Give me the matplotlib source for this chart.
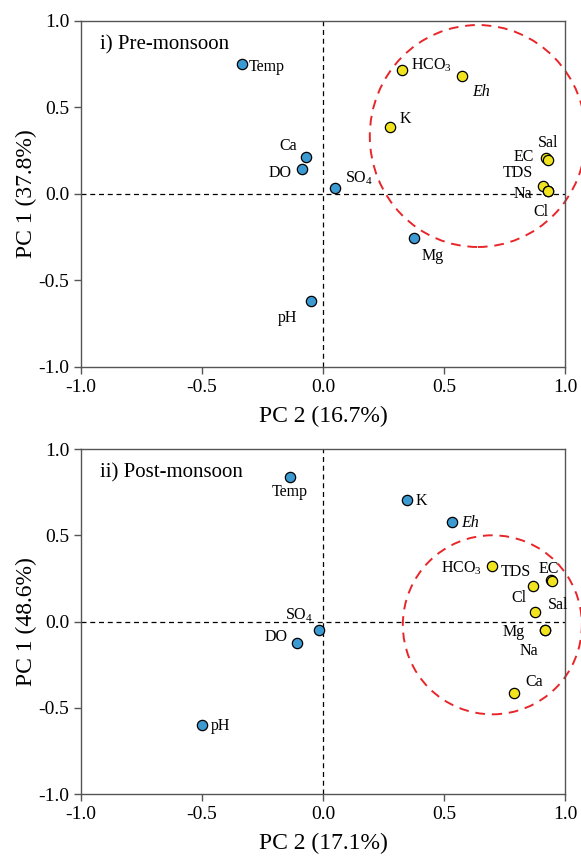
import matplotlib
matplotlib.use("Agg")
import matplotlib.pyplot as plt
from matplotlib.patches import Ellipse

plt.rcParams["font.family"] = ["Liberation Serif", "DejaVu Serif"]
plt.rcParams["mathtext.fontset"] = "custom"
plt.rcParams["mathtext.rm"] = "Liberation Serif"
plt.rcParams["mathtext.it"] = "Liberation Serif:italic"
plt.rcParams["axes.unicode_minus"] = False

BLUE = "#3b9ad2"
YELLOW = "#f1e41f"

# loadings (x = PC 2, y = PC 1)
pre_names = ["Temp", "Ca", "DO", "SO4", "pH", "Mg",
             "HCO3", "Eh", "K", "EC", "Sal", "TDS", "Na", "Cl"]
pre_pc2 = [-0.335, -0.070, -0.087, 0.050, -0.050, 0.376,
           0.326, 0.574, 0.277, 0.920, 0.928, 0.909, 0.930, 0.930]
pre_pc1 = [0.751, 0.215, 0.145, 0.035, -0.620, -0.255,
           0.715, 0.680, 0.390, 0.210, 0.198, 0.045, 0.020, 0.020]
pre_group = ["b", "b", "b", "b", "b", "b",
             "y", "y", "y", "y", "y", "y", "y", "y"]

post_names = ["Temp", "K", "Eh", "SO4", "DO", "pH",
              "HCO3", "TDS", "EC", "Sal", "Cl", "Mg", "Na", "Ca"]
post_pc2 = [-0.136, 0.346, 0.534, -0.015, -0.106, -0.501,
            0.700, 0.869, 0.942, 0.945, 0.876, 0.917, 0.917, 0.789]
post_pc1 = [0.838, 0.704, 0.575, -0.049, -0.123, -0.598,
            0.323, 0.206, 0.239, 0.235, 0.055, -0.049, -0.049, -0.413]
post_group = ["b", "b", "b", "b", "b", "b",
              "y", "y", "y", "y", "y", "y", "y", "y"]

pre_var = (16.7, 37.8)
post_var = (17.1, 48.6)

# label placement: offset in pixels and horizontal alignment
pre_offsets = {
    "Temp": (7, -3, "left"), "Ca": (-9, 11, "right"), "DO": (-10, -4, "right"),
    "SO4": (10, 10, "left"), "pH": (-14, -17, "right"), "Mg": (8, -18, "left"),
    "HCO3": (9, 5, "left"), "Eh": (10, -16, "left"), "K": (10, 8, "left"),
    "EC": (-12, 1, "right"), "Sal": (-10, 17, "left"), "TDS": (-10, 13, "right"),
    "Na": (-16, -3, "right"), "Cl": (-15, -21, "left"),
}
post_offsets = {
    "Temp": (0, -15, "center"), "K": (9, -1, "left"), "Eh": (9, -1, "left"),
    "SO4": (-6, 15, "right"), "DO": (-10, 6, "right"), "pH": (9, -1, "left"),
    "HCO3": (-10, -2, "right"), "TDS": (-2, 14, "right"), "EC": (-2, 11, "center"),
    "Sal": (-4, -24, "left"), "Cl": (-8, 14, "right"), "Mg": (-20, -2, "right"),
    "Na": (-16, -21, "center"), "Ca": (11, 11, "left"),
}


def label_text(name):
    if name == "SO4":
        return r"SO$_4$"
    if name == "HCO3":
        return r"HCO$_3$"
    return name


def draw_panel(ax, names, xs, ys, groups, offsets, var, title, circle):
    ax.axhline(0, color="black", lw=0.9, ls=(0, (4, 3)), zorder=1)
    ax.axvline(0, color="black", lw=0.9, ls=(0, (4, 3)), zorder=1)
    for name, x, y, g in zip(names, xs, ys, groups):
        ax.scatter(x, y, s=55, color=BLUE if g == "b" else YELLOW,
                   edgecolors="black", linewidths=0.9, zorder=3)
        dx, dy, ha = offsets[name]
        ax.annotate(label_text(name), (x, y), xytext=(dx, dy),
                    textcoords="offset pixels", ha=ha, va="center",
                    fontsize=11.5, style="italic" if name == "Eh" else "normal")
    cx, cy, w, h = circle
    ax.add_patch(Ellipse((cx, cy), w, h, fill=False, ec="#e8262a", lw=1.4,
                         ls=(0, (5, 3.5)), clip_on=False, zorder=2))
    ax.set_xlim(-1, 1)
    ax.set_ylim(-1, 1)
    ax.set_xticks([-1.0, -0.5, 0.0, 0.5, 1.0])
    ax.set_yticks([-1.0, -0.5, 0.0, 0.5, 1.0])
    ax.tick_params(direction="out", length=5, width=1, colors="#555555",
                   labelcolor="black", labelsize=14, top=False, right=False)
    for sp in ax.spines.values():
        sp.set_color("#555555")
        sp.set_linewidth(1)
    ax.set_xlabel(f"PC 2 ({var[0]}%)", fontsize=17, labelpad=7)
    ax.set_ylabel(f"PC 1 ({var[1]}%)", fontsize=17, labelpad=1)
    ax.text(0.04, 0.93, title, transform=ax.transAxes, fontsize=15,
            ha="left", va="center")


fig = plt.figure(figsize=(5.81, 8.56), dpi=100)
ax1 = fig.add_axes([0.1394, 0.5713, 0.833, 0.4042])
ax2 = fig.add_axes([0.1394, 0.0724, 0.833, 0.4030])

draw_panel(ax1, pre_names, pre_pc2, pre_pc1, pre_group, pre_offsets,
           pre_var, "i) Pre-monsoon", (0.640, 0.335, 0.893, 1.283))
draw_panel(ax2, post_names, post_pc2, post_pc1, post_group, post_offsets,
           post_var, "ii) Post-monsoon", (0.700, -0.019, 0.740, 1.038))

fig.savefig("out.png", dpi=100)
